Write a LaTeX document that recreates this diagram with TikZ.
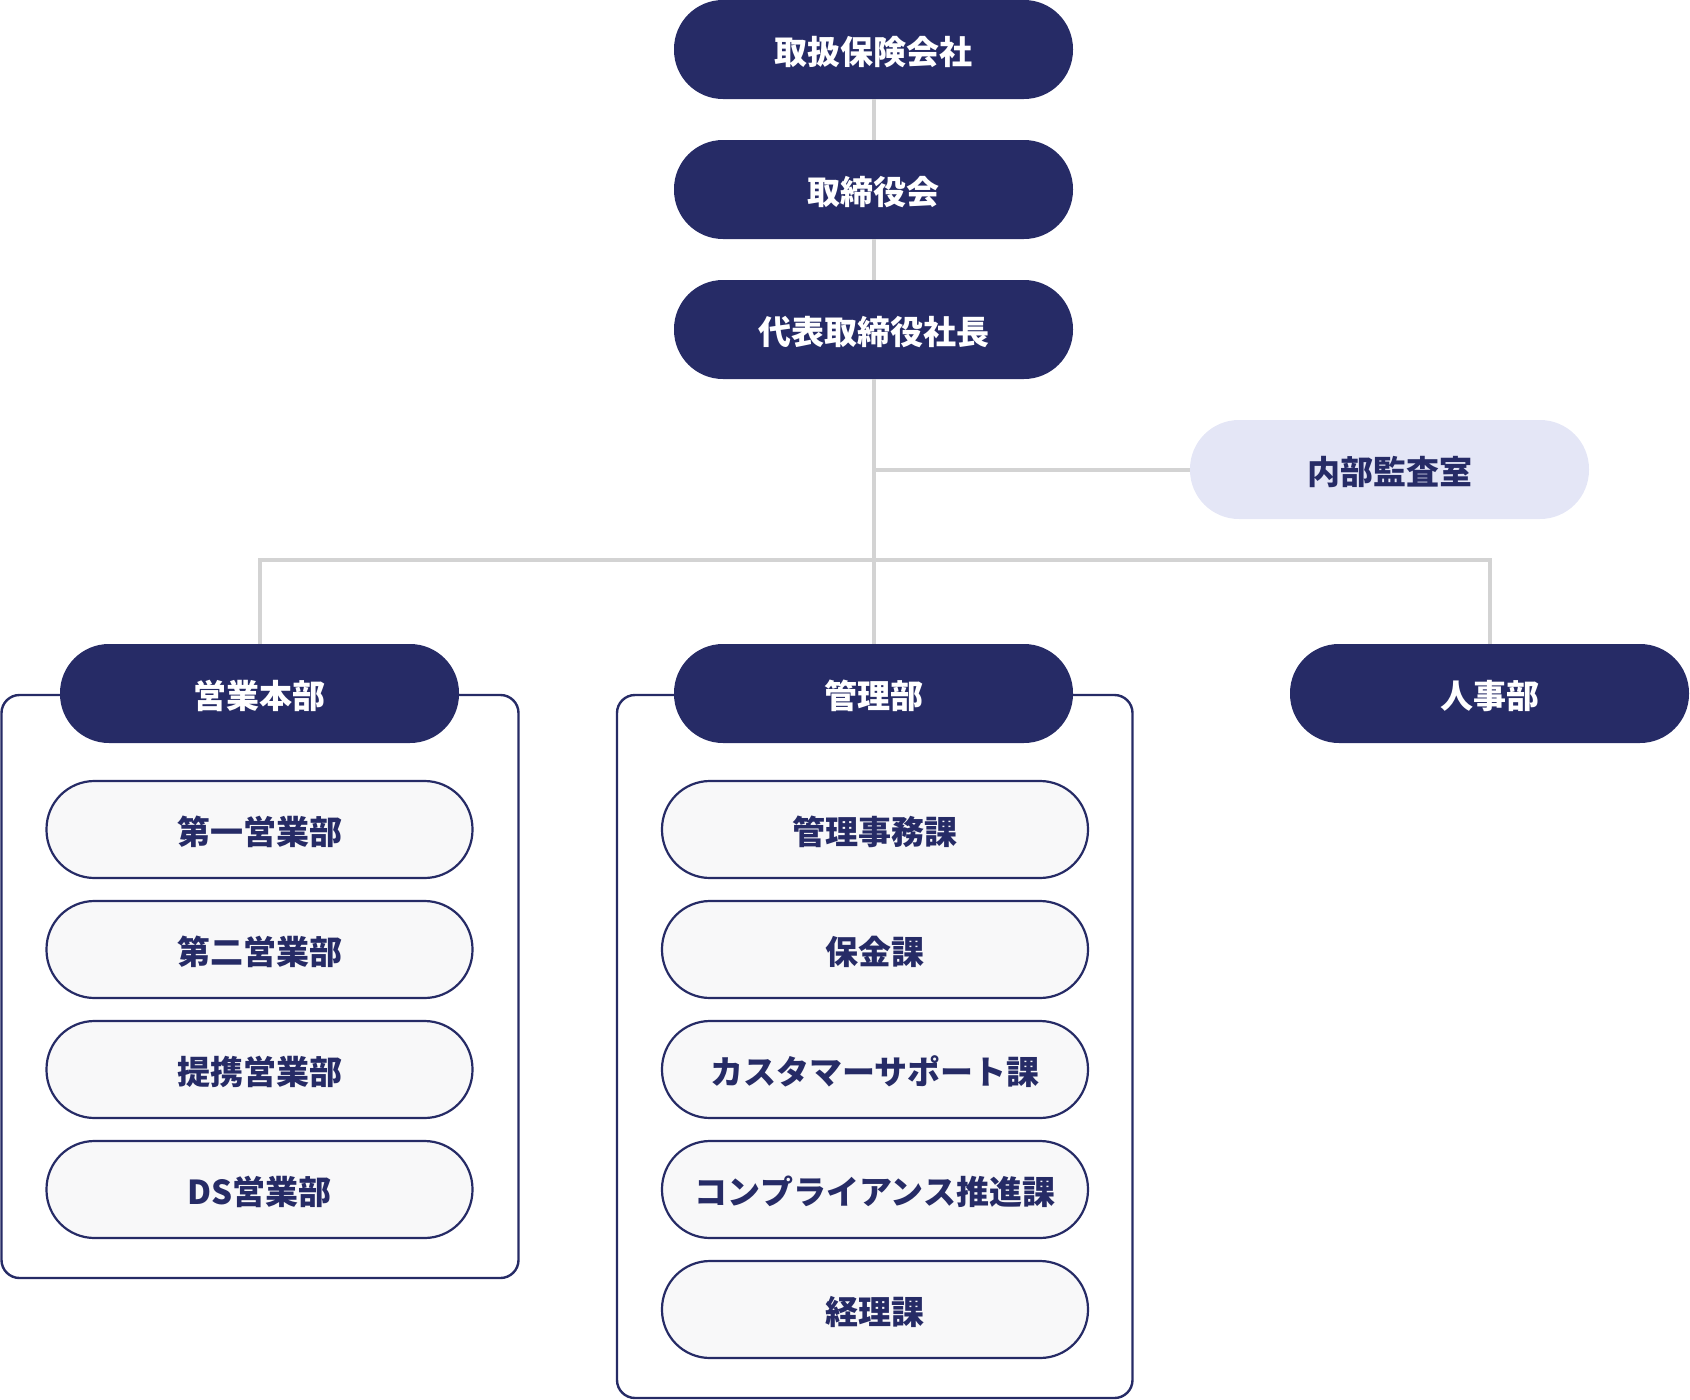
\documentclass[tikz,border=0pt]{standalone}
\usepackage{fontspec}
\setmainfont{Noto Sans CJK JP}
\newfontfamily\jpfont{Noto Sans CJK JP}
\definecolor{navy}{HTML}{262B66}
\definecolor{auditfill}{HTML}{E4E6F6}
\definecolor{childfill}{HTML}{F8F8F9}
\definecolor{connline}{HTML}{D3D3D3}
\begin{document}
\begin{tikzpicture}[x=1pt,y=-1pt,
  txt/.style={font=\jpfont\bfseries\fontsize{33pt}{40pt}\selectfont, text height=32pt, text depth=1.5pt},
  head/.style={txt, rectangle, rounded corners=49pt, minimum width=399pt, minimum height=99pt, fill=navy, text=white, inner sep=0pt},
  audithead/.style={head, fill=auditfill, text=navy},
  child/.style={txt, rectangle, rounded corners=48pt, minimum width=426pt, minimum height=97pt, fill=childfill, draw=navy, line width=2.2pt, text=navy, inner sep=0pt},
  grp/.style={draw=navy, line width=2.4pt, rounded corners=18pt},
  conn/.style={draw=connline, line width=4pt}]
\useasboundingbox (0,0) rectangle (1690,1400);
% group frames
\draw[grp] (1.5,695) rectangle (518.5,1278);
\draw[grp] (617,695) rectangle (1132.5,1398);
% top chain
\node[head] (top) at (873.5,49.5) {取扱保険会社};
\node[head] (board) at (873.5,189.5) {取締役会};
\node[head] (ceo) at (873.5,329.5) {代表取締役社長};
\node[audithead] (audit) at (1389.5,469.5) {内部監査室};
% departments
\node[head] (sales) at (259.5,693.5) {営業本部};
\node[head] (admin) at (873.5,693.5) {管理部};
\node[head] (hr) at (1489.5,693.5) {人事部};
% sales sections
\node[child] (s1) at (259.5,829.5) {第一営業部};
\node[child] (s2) at (259.5,949.5) {第二営業部};
\node[child] (s3) at (259.5,1069.5) {提携営業部};
\node[child] (s4) at (259.5,1189.5) {DS営業部};
% admin sections
\node[child] (a1) at (875,829.5) {管理事務課};
\node[child] (a2) at (875,949.5) {保金課};
\node[child] (a3) at (875,1069.5) {カスタマーサポート課};
\node[child] (a4) at (875,1189.5) {コンプライアンス推進課};
\node[child] (a5) at (875,1309.5) {経理課};
% connectors
\coordinate (bus) at (873.5,560);
\coordinate (auditj) at (873.5,469.5);
\draw[conn] (top.south) -- (board.north);
\draw[conn] (board.south) -- (ceo.north);
\draw[conn] (ceo.south) -- (admin.north);
\draw[conn] (auditj) -- (audit.west);
\draw[conn] (sales.north) |- (bus) -| (hr.north);
\end{tikzpicture}
\end{document}
